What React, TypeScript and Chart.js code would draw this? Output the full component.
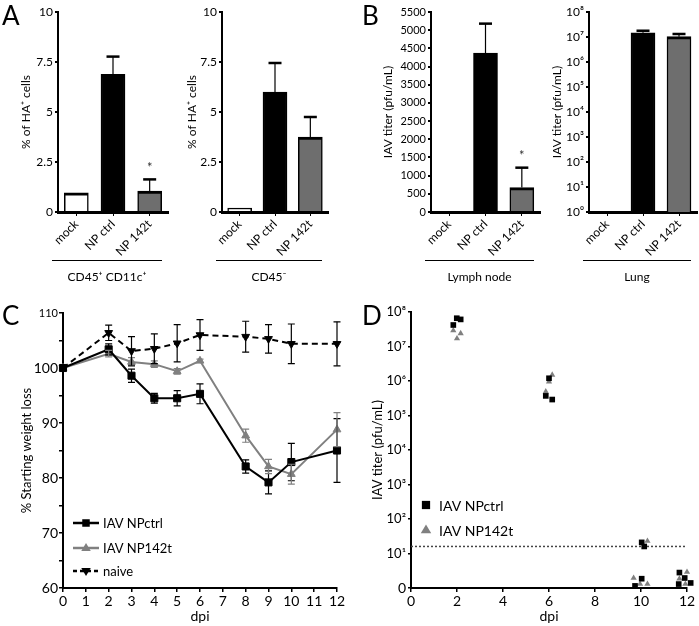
import React, { useEffect, useRef } from 'react';
import { Chart, registerables } from 'chart.js';
Chart.register(...registerables);

const FONT = 'Lato, "Open Sans", "DejaVu Sans", sans-serif';

// ---------- Panels A & B (bar charts) ----------
const barCategories = ['mock', 'NP ctrl', 'NP 142t'];
const barColors = ['#ffffff', '#000000', '#6e6e6e'];

const a1Values = [0.96, 6.88, 1.05];
const a1Errors = [0, 0.89, 0.58];
const a1Sig = [false, false, true];
const a2Values = [0.2, 6.0, 3.75];
const a2Errors = [0, 1.45, 1.0];
const a2Sig = [false, false, false];
const aTicks = [0, 2.5, 5, 7.5, 10];
const aTickLabels = ['0', '2.5', '5', '7.5', '10'];

const b1Values = [0, 4372, 672];
const b1Errors = [0, 808, 547];
const b1Sig = [false, false, true];
const b1Ticks = [0, 500, 1000, 1500, 2000, 2500, 3000, 3500, 4000, 4500, 5000, 5500];
const b1TickLabels = ['0', '500', '1000', '1500', '2000', '2500', '3000', '3500', '4000', '4500', '5000', '5500'];

const b2Values = [0, 1.48e7, 1.03e7];
const b2Errors = [0, 0.3e7, 0.29e7];
const b2Sig = [false, false, false];
const b2Ticks = [1, 1e1, 1e2, 1e3, 1e4, 1e5, 1e6, 1e7, 1e8];
const b2TickLabels = ['10⁰', '10¹', '10²', '10³', '10⁴', '10⁵', '10⁶', '10⁷', '10⁸'];

// ---------- Panel C (weight curves) ----------
const cDays = [0, 2, 3, 4, 5, 6, 8, 9, 10, 12];
const cCtrlMean = [100, 103.4, 98.6, 94.5, 94.5, 95.3, 82.1, 79.2, 82.9, 85.0];
const cCtrlErr = [0, 1.0, 1.2, 0.9, 1.4, 1.8, 1.2, 2.1, 3.4, 5.8];
const cNpMean = [100, 102.6, 101.1, 100.7, 99.4, 101.3, 87.7, 82.1, 80.7, 88.8];
const cNpErr = [0, 0.6, 0.8, 0.6, 0.5, 0.3, 1.2, 1.3, 1.8, 3.1];
const cNaiveMean = [100, 106.4, 103.1, 103.5, 104.5, 106.0, 105.7, 105.3, 104.4, 104.4];
const cNaiveErr = [0, 1.4, 2.6, 2.7, 3.4, 2.8, 2.8, 2.6, 3.6, 4.0];
const cXTicks = [0, 1, 2, 3, 4, 5, 6, 7, 8, 9, 10, 11, 12];
const cYTicks = [60, 65, 70, 75, 80, 85, 90, 95, 100, 105, 110];
const cYLabels = ['60', '', '70', '', '80', '', '90', '', '100', '', '110'];

// ---------- Panel D (titers) ----------
const dCtrlDpi = [1.84, 1.99, 2.16, 5.86, 6.0, 6.14, 9.74, 10.03, 10.03, 10.14, 11.64, 11.67, 11.9, 12.16];
const dCtrlTiter = [4.2e7, 6.6e7, 6.1e7, 3.7e5, 1.2e6, 2.9e5, 1.15, 21, 1.86, 16, 1.3, 2.8, 1.95, 1.4];
const dNpDpi = [1.84, 2.0, 2.16, 5.86, 6.0, 6.14, 9.68, 9.96, 10.28, 10.28, 11.67, 11.93, 12.0, 12.19];
const dNpTiter = [2.9e7, 1.7e7, 2.4e7, 4.9e5, 9.5e5, 1.5e6, 1.95, 1.3, 1.3, 23, 1.85, 1.3, 2.9, 2.1];
const dLimit = 16;
const dLimitDpi = [0, 12];
const dXTicks = [0, 2, 4, 6, 8, 10, 12];
const dYTicks = [1, 1e1, 1e2, 1e3, 1e4, 1e5, 1e6, 1e7, 1e8];
const dYLabels = ['0', '10¹', '10²', '10³', '10⁴', '10⁵', '10⁶', '10⁷', '10⁸'];

// ---------- helpers ----------
const fixW = (w: number) => (s: any) => {
  s.width = w; s.paddingTop = 0; s.paddingBottom = 0; s.paddingLeft = 0; s.paddingRight = 0;
};
const fixH = (h: number) => (s: any) => {
  s.height = h; s.paddingTop = 0; s.paddingBottom = 0; s.paddingLeft = 0; s.paddingRight = 0;
};
const setTicks = (vals: number[]) => (s: any) => { s.ticks = vals.map((v) => ({ value: v })); };

const errorBarPlugin = {
  id: 'errorBars',
  afterDatasetsDraw(chart: any) {
    const ctx = chart.ctx;
    chart.data.datasets.forEach((ds: any, i: number) => {
      const errs = ds.errorValues;
      if (!errs) return;
      const meta = chart.getDatasetMeta(i);
      const yScale = chart.scales[meta.yAxisID];
      meta.data.forEach((el: any, j: number) => {
        const e = errs[j];
        const raw = ds.data[j];
        const v = typeof raw === 'number' ? raw : raw.y;
        const x = el.x;
        ctx.save();
        ctx.strokeStyle = ds.errorColor || '#000';
        if (e) {
          const yTop = yScale.getPixelForValue(v + e);
          const yBot = ds.errorBoth ? yScale.getPixelForValue(v - e) : el.y;
          const cap = ds.capWidth || 13;
          ctx.lineWidth = ds.errorLine || 1.2;
          ctx.beginPath();
          ctx.moveTo(x, yTop); ctx.lineTo(x, yBot);
          ctx.stroke();
          ctx.lineWidth = ds.capLine || 2.5;
          ctx.beginPath();
          ctx.moveTo(x - cap / 2, yTop); ctx.lineTo(x + cap / 2, yTop);
          if (ds.errorBoth) { ctx.moveTo(x - cap / 2, yBot); ctx.lineTo(x + cap / 2, yBot); }
          ctx.stroke();
        }
        if (ds.sig && ds.sig[j]) {
          const yTop = yScale.getPixelForValue(v + (e || 0));
          ctx.fillStyle = '#333';
          ctx.font = `13px ${FONT}`;
          ctx.textAlign = 'center';
          ctx.textBaseline = 'middle';
          ctx.fillText('*', x, yTop - 12);
        }
        ctx.restore();
      });
    });
  },
};

function groupPlugin(text: string) {
  return {
    id: 'groupLabel',
    afterDraw(chart: any) {
      const { ctx, chartArea } = chart;
      const y = Math.round(chartArea.bottom + 48) + 0.5;
      const x0 = chartArea.left - 6;
      const x1 = chartArea.right - 6;
      ctx.save();
      ctx.strokeStyle = '#000';
      ctx.lineWidth = 1;
      ctx.beginPath();
      ctx.moveTo(x0, y); ctx.lineTo(x1, y);
      ctx.stroke();
      ctx.fillStyle = '#000';
      ctx.font = `12px ${FONT}`;
      ctx.textAlign = 'center';
      ctx.textBaseline = 'middle';
      ctx.fillText(text, (x0 + x1) / 2, y + 17);
      ctx.restore();
    },
  };
}

function drawMarker(ctx: any, style: string, x: number, y: number, r: number, color: string, down: boolean) {
  ctx.fillStyle = color;
  ctx.beginPath();
  if (style === 'rect') {
    const s = r * 0.75;
    ctx.rect(x - s, y - s, 2 * s, 2 * s);
  } else {
    const d = down ? -1 : 1;
    ctx.moveTo(x, y - d * r);
    ctx.lineTo(x - r * 0.95, y + d * r * 0.6);
    ctx.lineTo(x + r * 0.95, y + d * r * 0.6);
    ctx.closePath();
  }
  ctx.fill();
}

function legendPlugin(opts: any) {
  return {
    id: 'customLegend',
    afterDraw(chart: any) {
      const { ctx, chartArea } = chart;
      ctx.save();
      opts.items.forEach((it: any, k: number) => {
        const y = chartArea.bottom + opts.rows[k];
        const x = chartArea.left + opts.dx;
        if (opts.lines) {
          ctx.strokeStyle = it.color;
          ctx.lineWidth = 2.5;
          ctx.setLineDash(it.dash || []);
          ctx.beginPath();
          ctx.moveTo(x, y); ctx.lineTo(x + opts.lineLen, y);
          ctx.stroke();
          ctx.setLineDash([]);
          drawMarker(ctx, it.style, x + opts.lineLen / 2, y, opts.r, it.color, it.down);
        } else {
          drawMarker(ctx, it.style, x, y, opts.r, it.color, it.down);
        }
        ctx.fillStyle = '#000';
        ctx.font = `${opts.size}px ${FONT}`;
        ctx.textAlign = 'left';
        ctx.textBaseline = 'middle';
        ctx.fillText(it.label, x + opts.textDx, y + 1);
      });
      ctx.restore();
    },
  };
}

function ChartBox({ left, top, width, height, make }: any) {
  const ref = useRef<HTMLCanvasElement>(null);
  useEffect(() => {
    const chart = new Chart(ref.current as HTMLCanvasElement, make());
    return () => chart.destroy();
  }, []);
  return (
    <div style={{ position: 'absolute', left, top, width, height }}>
      <canvas ref={ref} width={width} height={height} style={{ width, height, display: 'block' }} />
    </div>
  );
}

function barConfig(p: any): any {
  return {
    type: 'bar',
    data: {
      labels: barCategories,
      datasets: [
        {
          data: p.values,
          errorValues: p.errors,
          sig: p.sig,
          backgroundColor: barColors,
          borderColor: '#000',
          borderWidth: { top: 3, left: 1.5, right: 1.5, bottom: 0 },
          barThickness: 24,
          capWidth: 13,
        },
      ],
    },
    options: {
      responsive: false,
      animation: false,
      layout: { padding: { top: p.padTop, right: p.padRight, left: 0, bottom: 0 } },
      plugins: { legend: { display: false }, tooltip: { enabled: false } },
      scales: {
        x: {
          z: 1,
          afterFit: fixH(p.xh),
          ticks: {
            color: '#000', font: { family: FONT, size: 12 },
            minRotation: 45, maxRotation: 45, padding: 1, autoSkip: false,
          },
          grid: { drawOnChartArea: false, drawTicks: true, tickLength: 4, color: '#000', lineWidth: 1, offset: false },
          border: { display: true, color: '#000', width: 3 },
        },
        y: {
          type: p.log ? 'logarithmic' : 'linear',
          min: p.ticks[0],
          max: p.ticks[p.ticks.length - 1],
          z: 1,
          afterFit: fixW(p.yw),
          afterBuildTicks: setTicks(p.ticks),
          ticks: {
            callback: (_v: any, i: number) => p.tickLabels[i],
            color: '#000', font: { family: FONT, size: p.tickSize }, padding: 2, autoSkip: false,
          },
          grid: { drawOnChartArea: false, drawTicks: true, tickLength: 3, color: '#000', lineWidth: 2 },
          border: { display: true, color: '#000', width: 2 },
          title: {
            display: true, text: p.yTitle, color: '#000',
            font: { family: FONT, size: 12 }, padding: { top: p.titlePad, bottom: 0 },
          },
        },
      },
    },
    plugins: [errorBarPlugin, groupPlugin(p.group)],
  };
}

function cConfig(): any {
  const mk = (ys: number[]) => cDays.map((d, i) => ({ x: d, y: ys[i] }));
  return {
    type: 'line',
    data: {
      datasets: [
        {
          label: 'IAV NPctrl', data: mk(cCtrlMean), errorValues: cCtrlErr, errorBoth: true,
          errorColor: '#000', capWidth: 7, capLine: 1.2,
          borderColor: '#000', backgroundColor: '#000', borderWidth: 2,
          pointStyle: 'rect', pointRadius: 5, pointBorderWidth: 1,
          pointBackgroundColor: '#000', pointBorderColor: '#000', clip: false,
        },
        {
          label: 'IAV NP142t', data: mk(cNpMean), errorValues: cNpErr, errorBoth: true,
          errorColor: '#808080', capWidth: 7, capLine: 1.2,
          borderColor: '#808080', backgroundColor: '#808080', borderWidth: 2,
          pointStyle: 'triangle', pointRadius: 4.5, pointBorderWidth: 1,
          pointBackgroundColor: '#808080', pointBorderColor: '#808080', clip: false,
        },
        {
          label: 'naive', data: mk(cNaiveMean), errorValues: cNaiveErr, errorBoth: true,
          errorColor: '#000', capWidth: 7, capLine: 1.2,
          borderColor: '#000', backgroundColor: '#000', borderWidth: 2, borderDash: [6, 4],
          pointStyle: 'triangle', pointRotation: 180, pointRadius: 4.5, pointBorderWidth: 1,
          pointBackgroundColor: '#000', pointBorderColor: '#000', clip: false,
        },
      ],
    },
    options: {
      responsive: false,
      animation: false,
      layout: { padding: { top: 13, right: 13, left: 0, bottom: 0 } },
      plugins: { legend: { display: false }, tooltip: { enabled: false } },
      scales: {
        x: {
          type: 'linear', min: 0, max: 12, z: 1,
          afterFit: fixH(38),
          afterBuildTicks: setTicks(cXTicks),
          ticks: { callback: (v: any) => String(v), color: '#000', font: { family: FONT, size: 14 }, padding: 1, autoSkip: false, maxRotation: 0 },
          grid: { drawOnChartArea: false, drawTicks: true, tickLength: 4, color: '#000', lineWidth: 1.5 },
          border: { display: true, color: '#000', width: 2 },
          title: { display: true, text: 'dpi', color: '#000', font: { family: FONT, size: 14 }, padding: { top: 0, bottom: 1 } },
        },
        y: {
          min: 60, max: 110, z: 1,
          afterFit: fixW(63),
          afterBuildTicks: setTicks(cYTicks),
          ticks: {
            callback: (_v: any, i: number) => cYLabels[i],
            color: '#000',
            font: (c: any) => ({ family: FONT, size: c.tick && c.tick.value === 110 ? 11 : 14 }),
            padding: 1, autoSkip: false,
          },
          grid: { drawOnChartArea: false, drawTicks: true, tickLength: 4, color: '#000', lineWidth: 1.5 },
          border: { display: true, color: '#000', width: 2 },
          title: { display: true, text: '% Starting weight loss', color: '#000', font: { family: FONT, size: 13 }, padding: { top: 19, bottom: 0 } },
        },
      },
    },
    plugins: [
      errorBarPlugin,
      legendPlugin({
        items: [
          { label: 'IAV NPctrl', style: 'rect', color: '#000' },
          { label: 'IAV NP142t', style: 'tri', color: '#808080' },
          { label: 'naive', style: 'tri', color: '#000', dash: [4, 3], down: true },
        ],
        rows: [-65, -40, -17], dx: 10, lineLen: 26, textDx: 30, r: 5, size: 13, lines: true,
      }),
    ],
  };
}

function dConfig(): any {
  return {
    type: 'scatter',
    data: {
      datasets: [
        {
          label: 'IAV NPctrl',
          data: dCtrlDpi.map((d, i) => ({ x: d, y: dCtrlTiter[i] })),
          pointStyle: 'rect', pointRadius: 4, pointBorderWidth: 0, clip: false,
          pointBackgroundColor: '#000', backgroundColor: '#000', borderColor: '#000',
        },
        {
          label: 'IAV NP142t',
          data: dNpDpi.map((d, i) => ({ x: d, y: dNpTiter[i] })),
          pointStyle: 'triangle', pointRadius: 3.6, pointBorderWidth: 0, clip: false,
          pointBackgroundColor: '#808080', backgroundColor: '#808080', borderColor: '#808080',
        },
        {
          type: 'line',
          label: 'limit',
          data: dLimitDpi.map((d) => ({ x: d, y: dLimit })),
          showLine: true, pointRadius: 0, borderColor: '#444', borderWidth: 1.5, borderDash: [2, 2],
        },
      ],
    },
    options: {
      responsive: false,
      animation: false,
      layout: { padding: { top: 12, right: 12, left: 0, bottom: 0 } },
      plugins: { legend: { display: false }, tooltip: { enabled: false } },
      scales: {
        x: {
          type: 'linear', min: 0, max: 12, z: 1,
          afterFit: fixH(38),
          afterBuildTicks: setTicks(dXTicks),
          ticks: { callback: (v: any) => String(v), color: '#000', font: { family: FONT, size: 14 }, padding: 1, autoSkip: false, maxRotation: 0 },
          grid: { drawOnChartArea: false, drawTicks: true, tickLength: 4, color: '#000', lineWidth: 1.5 },
          border: { display: true, color: '#000', width: 2 },
          title: { display: true, text: 'dpi', color: '#000', font: { family: FONT, size: 14 }, padding: { top: 0, bottom: 1 } },
        },
        y: {
          type: 'logarithmic', min: 1, max: 1e8, z: 1,
          afterFit: fixW(61),
          afterBuildTicks: setTicks(dYTicks),
          ticks: {
            callback: (_v: any, i: number) => dYLabels[i],
            color: '#000',
            font: (c: any) => ({ family: FONT, size: c.tick && c.tick.value === 1 ? 14 : 13 }),
            padding: 2, autoSkip: false,
          },
          grid: { drawOnChartArea: false, drawTicks: true, tickLength: 3, color: '#000', lineWidth: 1.5 },
          border: { display: true, color: '#000', width: 2 },
          title: { display: true, text: 'IAV titer (pfu/mL)', color: '#000', font: { family: FONT, size: 13 }, padding: { top: 20, bottom: 0 } },
        },
      },
    },
    plugins: [
      legendPlugin({
        items: [
          { label: 'IAV NPctrl', style: 'rect', color: '#000' },
          { label: 'IAV NP142t', style: 'tri', color: '#808080' },
        ],
        rows: [-83, -58], dx: 15, textDx: 13, r: 5.5, size: 14, lines: false,
      }),
    ],
  };
}

const letterStyle = (left: number, top: number): any => ({
  position: 'absolute', left, top, fontFamily: FONT, fontSize: 26, lineHeight: '26px', color: '#000',
});

export default function App() {
  return (
    <div style={{ position: 'fixed', left: 0, top: 0, width: 699, height: 626, background: '#fff', overflow: 'hidden' }}>
      <ChartBox left={0} top={0} width={172} height={300} make={() => barConfig({
        values: a1Values, errors: a1Errors, sig: a1Sig, ticks: aTicks, tickLabels: aTickLabels,
        yTitle: '% of HA⁺ cells', group: 'CD45⁺ CD11c⁺', yw: 58, xh: 88, padTop: 12, padRight: 4,
        tickSize: 12, titlePad: 19,
      })} />
      <ChartBox left={172} top={0} width={160} height={300} make={() => barConfig({
        values: a2Values, errors: a2Errors, sig: a2Sig, ticks: aTicks, tickLabels: aTickLabels,
        yTitle: '% of HA⁺ cells', group: 'CD45⁻', yw: 50, xh: 88, padTop: 12, padRight: 4,
        tickSize: 12, titlePad: 13,
      })} />
      <ChartBox left={360} top={0} width={182} height={300} make={() => barConfig({
        values: b1Values, errors: b1Errors, sig: b1Sig, ticks: b1Ticks, tickLabels: b1TickLabels,
        yTitle: 'IAV titer (pfu/mL)', group: 'Lymph node', yw: 71, xh: 88, padTop: 12, padRight: 2,
        tickSize: 11, titlePad: 21,
      })} />
      <ChartBox left={545} top={0} width={154} height={300} make={() => barConfig({
        values: b2Values, errors: b2Errors, sig: b2Sig, ticks: b2Ticks, tickLabels: b2TickLabels, log: true,
        yTitle: 'IAV titer (pfu/mL)', group: 'Lung', yw: 44, xh: 88, padTop: 12, padRight: 2,
        tickSize: 12, titlePad: 5,
      })} />
      <ChartBox left={0} top={300} width={350} height={326} make={cConfig} />
      <ChartBox left={350} top={300} width={349} height={326} make={dConfig} />
      <div style={letterStyle(2, 2)}>A</div>
      <div style={letterStyle(362, 2)}>B</div>
      <div style={letterStyle(2, 302)}>C</div>
      <div style={letterStyle(362, 302)}>D</div>
    </div>
  );
}
